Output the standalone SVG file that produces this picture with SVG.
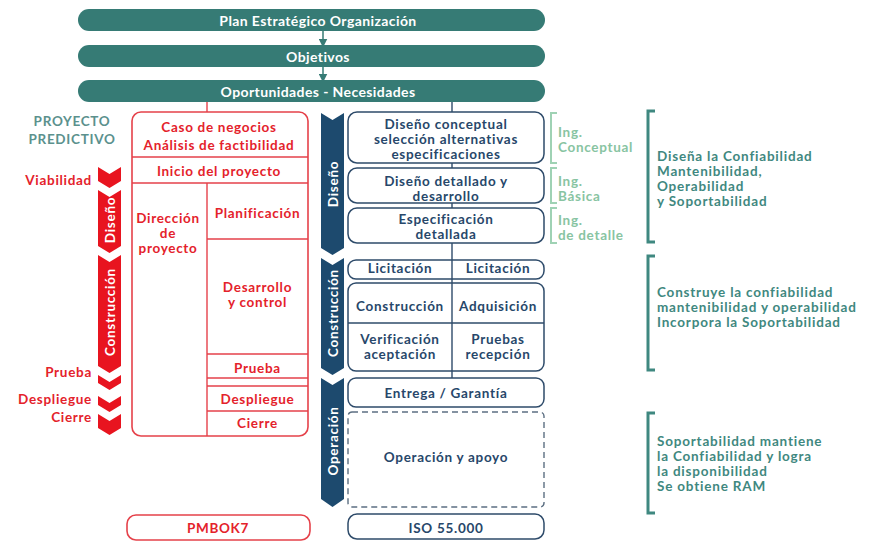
<svg xmlns="http://www.w3.org/2000/svg" width="880" height="541" viewBox="0 0 880 541">
<defs>
<style>
text{font-family:Lato,"Open Sans","Liberation Sans",sans-serif;font-weight:700;dominant-baseline:central;font-size:13.5px;letter-spacing:0.7px}
.bar{fill:#367b75}
.bt{fill:#fff;text-anchor:middle;font-size:14px;letter-spacing:0.4px}
.rb{fill:#fff;stroke:#e5414a;stroke-width:1.6}
.rl{stroke:#e5414a;stroke-width:1.4;fill:none}
.r{fill:#e4222b;text-anchor:middle}
.rr{fill:#e4222b;text-anchor:end}
.nb{fill:#fff;stroke:#2e4b6a;stroke-width:1.5}
.nl{stroke:#2e4b6a;stroke-width:1.4;fill:none}
.n{fill:#27476a;text-anchor:middle}
.g{fill:#88c4a2}
.gb{stroke:#9fd2b4;stroke-width:2;fill:none}
.t{fill:#3f8880;letter-spacing:0.8px}
.tb{stroke:#3f8880;stroke-width:3;fill:none}
.pp{fill:#5b918d;text-anchor:middle}
.vt{fill:#fff;text-anchor:middle}
.chr{fill:#e8141f}
.chn{fill:#1d4a6e}
</style>
<marker id="ah" viewBox="0 0 10 10" refX="5" refY="5" markerWidth="6" markerHeight="6" orient="auto"><path d="M0,0 L10,5 L0,10 z" fill="#367b75"/></marker>
</defs>

<g id="connectors">
<line x1="323" y1="31" x2="323" y2="43" stroke="#367b75" stroke-width="1.5" marker-end="url(#ah)"/>
<line x1="323" y1="67" x2="323" y2="78" stroke="#367b75" stroke-width="1.5" marker-end="url(#ah)"/>
<line x1="207" y1="102" x2="207" y2="112" class="rl"/>
<line x1="452" y1="102" x2="452" y2="112" class="nl"/>
<line x1="452" y1="163" x2="452" y2="168" class="nl"/>
<line x1="452" y1="203" x2="452" y2="208" class="nl"/>
<line x1="452" y1="243" x2="452" y2="260" class="nl"/>
<line x1="452" y1="279" x2="452" y2="283" class="nl"/>
<line x1="452" y1="371" x2="452" y2="378" class="nl"/>
</g>

<g id="plan"><rect x="78" y="9" width="467" height="22" rx="11" class="bar"/><text x="318" y="20.5" class="bt">Plan Estratégico Organización</text></g>
<g id="objetivos"><rect x="78" y="45" width="467" height="22" rx="11" class="bar"/><text x="318" y="56.5" class="bt">Objetivos</text></g>
<g id="oportunidades"><rect x="78" y="80" width="467" height="22" rx="11" class="bar"/><text x="318" y="91.5" class="bt">Oportunidades - Necesidades</text></g>

<g id="proyecto-predictivo"><text x="72" y="121" class="pp">PROYECTO</text><text x="72" y="139" class="pp">PREDICTIVO</text></g>

<g id="red-stages">
<text x="92" y="180" class="rr">Viabilidad</text>
<text x="92" y="372" class="rr">Prueba</text>
<text x="92" y="399" class="rr">Despliegue</text>
<text x="92" y="417" class="rr">Cierre</text>
<polygon class="chr" points="98,167 109.5,174 121,167 121,181 109.5,188 98,181"/>
<polygon class="chr" points="98,190 109.5,197 121,190 121,246 109.5,253 98,246"/>
<polygon class="chr" points="98,255 109.5,262 121,255 121,366 109.5,373 98,366"/>
<polygon class="chr" points="98,375 109.5,382 121,375 121,383 109.5,390 98,383"/>
<polygon class="chr" points="98,396 109.5,403 121,396 121,405 109.5,412 98,405"/>
<polygon class="chr" points="98,414 109.5,421 121,414 121,428 109.5,435 98,428"/>
<text class="vt" transform="translate(110,220) rotate(-90)">Diseño</text>
<text class="vt" transform="translate(110,312) rotate(-90)">Construcción</text>
</g>

<g id="pm-box">
<rect x="132" y="112" width="176" height="324" rx="9" class="rb"/>
<line x1="132" y1="157" x2="308" y2="157" class="rl"/>
<line x1="132" y1="183" x2="308" y2="183" class="rl"/>
<line x1="207" y1="183" x2="207" y2="436" class="rl"/>
<line x1="207" y1="239" x2="308" y2="239" class="rl"/>
<line x1="207" y1="354" x2="308" y2="354" class="rl"/>
<line x1="207" y1="378" x2="308" y2="378" class="rl"/>
<line x1="207" y1="386" x2="308" y2="386" class="rl"/>
<line x1="207" y1="411" x2="308" y2="411" class="rl"/>
<text x="219" y="127" class="r">Caso de negocios</text>
<text x="219" y="145" class="r">Análisis de factibilidad</text>
<text x="219" y="171" class="r">Inicio del proyecto</text>
<text x="168" y="218" class="r">Dirección</text>
<text x="168" y="233" class="r">de</text>
<text x="168" y="248" class="r">proyecto</text>
<text x="257.5" y="213" class="r">Planificación</text>
<text x="257.5" y="287" class="r">Desarrollo</text>
<text x="257.5" y="302" class="r">y control</text>
<text x="257.5" y="368" class="r">Prueba</text>
<text x="257.5" y="399" class="r">Despliegue</text>
<text x="257.5" y="423" class="r">Cierre</text>
</g>

<g id="pmbok"><rect x="127" y="515" width="183" height="25" rx="9" class="rb"/><text x="218" y="528" class="r">PMBOK7</text></g>

<g id="blue-stages">
<polygon class="chn" points="321,113 332.5,120 344,113 344,248 332.5,255 321,248"/>
<polygon class="chn" points="321,258 332.5,265 344,258 344,368 332.5,375 321,368"/>
<polygon class="chn" points="321,378 332.5,385 344,378 344,499 332.5,507 321,499"/>
<text class="vt" transform="translate(333,184) rotate(-90)">Diseño</text>
<text class="vt" transform="translate(333,313) rotate(-90)">Construcción</text>
<text class="vt" transform="translate(333,441) rotate(-90)">Operación</text>
</g>

<g id="diseno-conceptual"><rect x="348" y="112" width="196" height="51" rx="9" class="nb"/>
<text x="446" y="124" class="n">Diseño conceptual</text><text x="446" y="139" class="n">selección alternativas</text><text x="446" y="154" class="n">especificaciones</text></g>
<g id="diseno-detallado"><rect x="348" y="168" width="196" height="35" rx="9" class="nb"/>
<text x="446" y="180.5" class="n">Diseño detallado y</text><text x="446" y="195.5" class="n">desarrollo</text></g>
<g id="especificacion"><rect x="348" y="208" width="196" height="35" rx="9" class="nb"/>
<text x="446" y="219" class="n">Especificación</text><text x="446" y="234" class="n">detallada</text></g>

<g id="licitacion"><rect x="348" y="260" width="196" height="19" rx="8" class="nb"/>
<line x1="452" y1="260" x2="452" y2="279" class="nl"/>
<text x="400" y="268" class="n">Licitación</text><text x="498" y="268" class="n">Licitación</text></g>
<g id="construccion-table"><rect x="348" y="283" width="196" height="88" rx="8" class="nb"/>
<line x1="452" y1="283" x2="452" y2="371" class="nl"/>
<line x1="348" y1="323" x2="544" y2="323" class="nl"/>
<text x="400" y="306" class="n">Construcción</text><text x="498" y="306" class="n">Adquisición</text>
<text x="400" y="339" class="n">Verificación</text><text x="400" y="354" class="n">aceptación</text>
<text x="498" y="339" class="n">Pruebas</text><text x="498" y="354" class="n">recepción</text></g>
<g id="entrega"><rect x="348" y="378" width="196" height="29" rx="8" class="nb"/><text x="446" y="393" class="n">Entrega / Garantía</text></g>
<g id="operacion"><rect x="348" y="412" width="196" height="95" rx="4" fill="none" stroke="#5c6f82" stroke-width="1.4" stroke-dasharray="6 4"/><text x="446" y="457" class="n">Operación y apoyo</text></g>
<g id="iso"><rect x="348" y="514" width="196" height="25" rx="9" class="nb"/><text x="446" y="528" class="n">ISO 55.000</text></g>

<g id="ing-conceptual"><path d="M557,113 H551 V163 H557" class="gb"/><text x="558" y="132" class="g">Ing.</text><text x="558" y="147" class="g">Conceptual</text></g>
<g id="ing-basica"><path d="M557,168 H551 V203 H557" class="gb"/><text x="558" y="181" class="g">Ing.</text><text x="558" y="196" class="g">Básica</text></g>
<g id="ing-detalle"><path d="M557,208 H551 V243 H557" class="gb"/><text x="558" y="220" class="g">Ing.</text><text x="558" y="235" class="g">de detalle</text></g>

<g id="nota-diseno"><path d="M655,111 H648 V242 H655" class="tb"/>
<text x="657" y="156" class="t">Diseña la Confiabilidad</text><text x="657" y="171" class="t">Mantenibilidad,</text><text x="657" y="186" class="t">Operabilidad</text><text x="657" y="201" class="t">y Soportabilidad</text></g>
<g id="nota-construccion"><path d="M655,256 H648 V370 H655" class="tb"/>
<text x="657" y="292" class="t">Construye la confiabilidad</text><text x="657" y="307" class="t">mantenibilidad y operabilidad</text><text x="657" y="322" class="t">Incorpora la Soportabilidad</text></g>
<g id="nota-operacion"><path d="M655,413 H648 V513 H655" class="tb"/>
<text x="657" y="441" class="t">Soportabilidad mantiene</text><text x="657" y="456" class="t">la Confiabilidad y logra</text><text x="657" y="471" class="t">la disponibilidad</text><text x="657" y="486" class="t">Se obtiene RAM</text></g>
</svg>
